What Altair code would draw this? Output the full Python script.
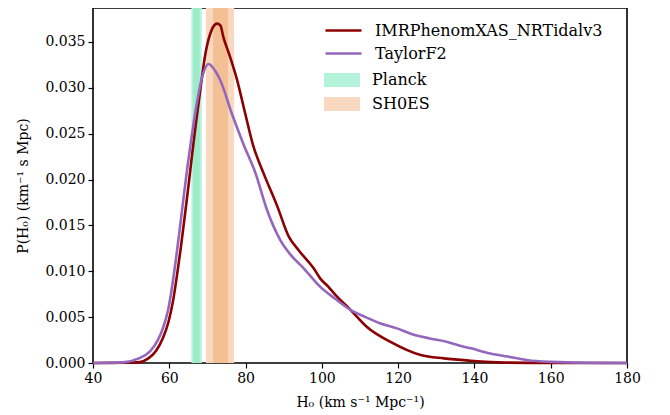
import altair as alt
import pandas as pd

# --- data ---
series_names = ["IMRPhenomXAS_NRTidalv3", "TaylorF2"]

h0_imr = [40, 45, 50, 52.3, 54.5, 56.5, 58.3, 59.8, 61.0, 62.0, 63.0, 64.0, 65.0, 66.0, 67.0,
          68.2, 69.5, 71.0, 72.5, 73.4, 74.2, 76.0, 77.75, 79.9, 82.0, 84.7, 88.3, 91.3, 93.9,
          97.9, 99.6, 101.5, 103.6, 107.5, 111.9, 118.0, 125.9, 132.0, 139.0, 148.0, 160.0, 180.0]
p_imr = [0.0, 0.00001, 0.00005, 0.0001, 0.0005, 0.0013, 0.0027, 0.0045, 0.0068, 0.0095, 0.0125,
         0.0158, 0.0192, 0.0228, 0.0262, 0.0300, 0.0338, 0.0362, 0.0370, 0.0368, 0.0355, 0.0333,
         0.0309, 0.0272, 0.0237, 0.0207, 0.0171, 0.0138, 0.0123, 0.0103, 0.0092, 0.0084, 0.0074,
         0.0058, 0.0039, 0.0023, 0.00087, 0.0005, 0.00025, 0.00005, 0.0, 0.0]

h0_tf2 = [40, 44, 48.4, 52.0, 55.0, 57.0, 58.5, 59.8, 60.8, 61.8, 62.8, 63.8, 64.8, 65.8, 66.9,
          68.4, 70.3, 72.1, 73.4, 76.4, 79.5, 82.6, 85.6, 89.1, 92.0, 95.3, 99.6, 103.5, 107.5,
          111.5, 115.4, 119.5, 123.3, 128.0, 132.9, 136.0, 139.1, 143.5, 148.7, 154.0, 160.0,
          170.0, 180.0]
p_tf2 = [0.0, 0.00002, 0.0001, 0.0005, 0.0013, 0.0025, 0.0040, 0.0060, 0.0085, 0.0115, 0.0148,
         0.0182, 0.0215, 0.0245, 0.0275, 0.0308, 0.0326, 0.0318, 0.0308, 0.0272, 0.0238, 0.0207,
         0.0167, 0.0134, 0.0117, 0.0103, 0.0083, 0.0070, 0.0058, 0.0050, 0.0043, 0.0038, 0.0032,
         0.0027, 0.0023, 0.0019, 0.0016, 0.0011, 0.0007, 0.0003, 0.00012, 0.00002, 0.0]

band_names = ["Planck", "SH0ES"]
band_outer_lo = [65.8, 69.6]
band_outer_hi = [68.5, 77.0]
band_inner_lo = [66.3, 71.5]
band_inner_hi = [68.0, 75.4]
band_outer_colors = ["#b4f2d9", "#f9d8c0"]
band_inner_colors = ["#9debc8", "#f3bf95"]
line_colors = ["#8b0000", "#9467bd"]

x_ticks = [40, 60, 80, 100, 120, 140, 160, 180]
y_ticks = [0.0, 0.005, 0.010, 0.015, 0.020, 0.025, 0.030, 0.035]

# --- tables ---
lines_df = pd.concat([
    pd.DataFrame({"h0": h0_imr, "p": p_imr, "series": series_names[0]}),
    pd.DataFrame({"h0": h0_tf2, "p": p_tf2, "series": series_names[1]}),
])
bands_df = pd.DataFrame({
    "name": band_names,
    "lo": band_outer_lo, "hi": band_outer_hi,
    "ilo": band_inner_lo, "ihi": band_inner_hi,
    "icol": band_inner_colors,
})

x_scale = alt.Scale(domain=[40, 180], nice=False, zero=False)
x_axis = alt.Axis(values=x_ticks, title="H₀ (km s⁻¹ Mpc⁻¹)", labelFlush=False, titlePadding=10)
y_scale = alt.Scale(domain=[0, 0.0387], nice=False)
y_axis = alt.Axis(values=y_ticks, format=".3f", title="P(H₀) (km⁻¹ s Mpc)", titlePadding=14)

outer = alt.Chart(bands_df).mark_rect().encode(
    x=alt.X("lo:Q", scale=x_scale, axis=x_axis),
    x2="hi:Q",
    fill=alt.Fill("name:N", scale=alt.Scale(domain=band_names, range=band_outer_colors),
                  legend=alt.Legend(title=None, orient="none", legendX=240, legendY=63,
                                    symbolType="M-2,-0.78H2V0.78H-2Z", symbolSize=324,
                                    symbolStrokeWidth=0, symbolOpacity=1, labelOffset=21,
                                    rowPadding=7, labelLimit=400)),
)
inner = alt.Chart(bands_df).mark_rect().encode(
    x=alt.X("ilo:Q", scale=x_scale),
    x2="ihi:Q",
    color=alt.Color("icol:N", scale=None),
)
lines = alt.Chart(lines_df).mark_line(strokeWidth=2.6, interpolate="monotone").encode(
    x=alt.X("h0:Q", scale=x_scale),
    y=alt.Y("p:Q", scale=y_scale, axis=y_axis),
    stroke=alt.Stroke("series:N", scale=alt.Scale(domain=series_names, range=line_colors),
                      legend=alt.Legend(title=None, orient="none", legendX=240, legendY=12,
                                        symbolType="M-2,0H2", symbolSize=324,
                                        symbolStrokeWidth=2.6, labelOffset=21, rowPadding=4,
                                        labelLimit=400)),
)

chart = alt.layer(outer, inner, lines).properties(
    width=534, height=355,
    autosize=alt.AutoSizeParams(type="none"),
    padding={"left": 85, "top": 0, "right": 20, "bottom": 52},
).configure_view(
    stroke="black", strokeWidth=1.6
).configure_axis(
    labelFont="DejaVu Serif", labelFontSize=14, labelColor="black",
    titleFont="DejaVu Serif", titleFontSize=14, titleFontWeight="normal", titleColor="black",
    tickColor="black", tickSize=5, tickWidth=1.2, domain=False, grid=False, labelPadding=3,
).configure_legend(
    labelFont="DejaVu Serif", labelFontSize=16, labelColor="black", padding=0,
)

chart.save("out.html", embed_options={"renderer": "svg", "actions": False})
